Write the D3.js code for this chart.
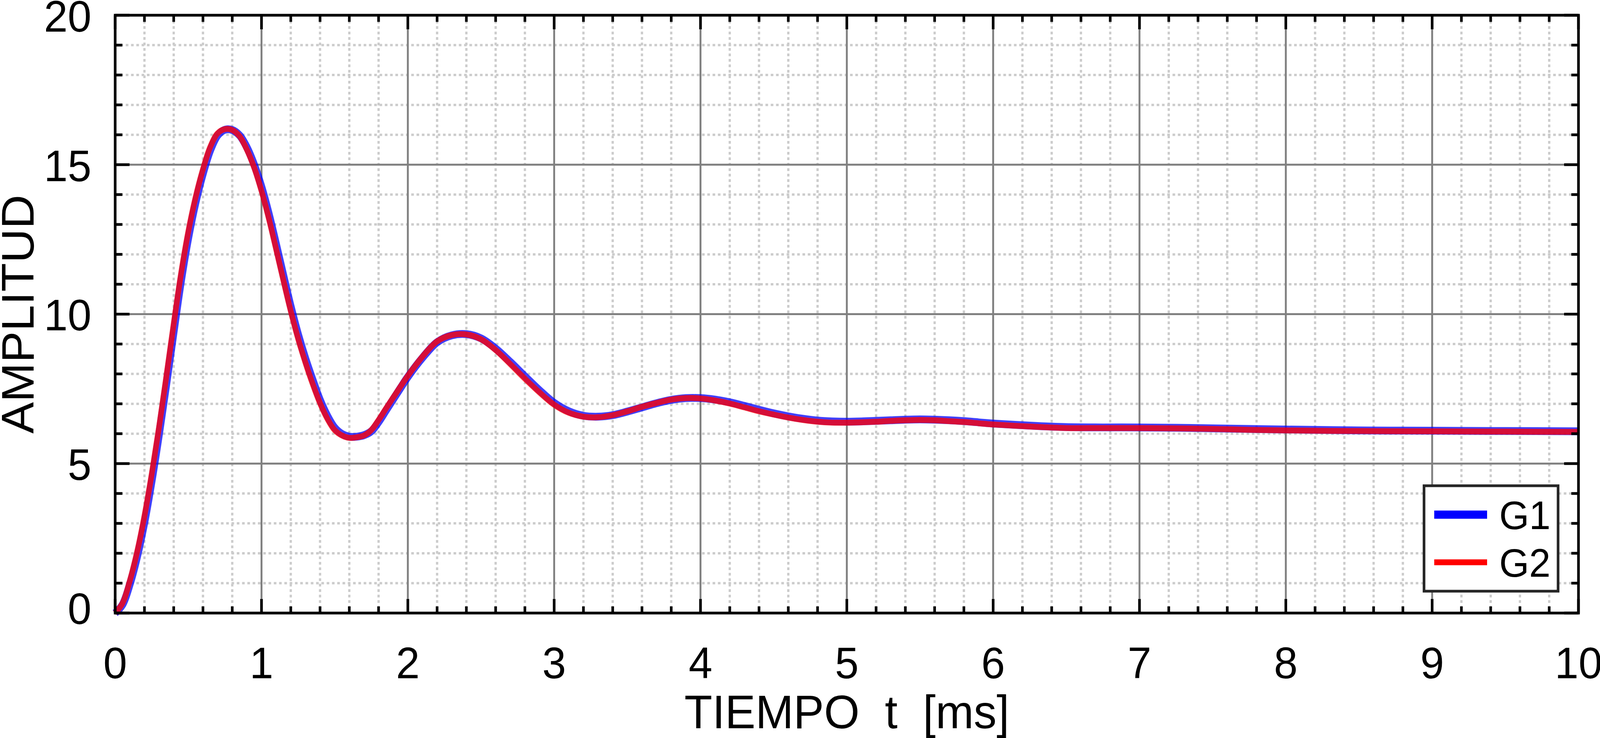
<!DOCTYPE html>
<html>
<head>
<meta charset="utf-8">
<script src="https://cdn.jsdelivr.net/npm/d3@7"></script>
<style>
  html, body { margin: 0; padding: 0; background: #fff; overflow: hidden; width: 100%; height: 100%; }
  #chart { display: block; width: 100vw; height: 100vh; }
  text { font-family: "Liberation Sans", Arial, Helvetica, sans-serif; fill: #000; }
</style>
</head>
<body>
<svg id="chart" viewBox="0 0 4237 1890" preserveAspectRatio="none"></svg>
<script>
// time axis (ms)
var tiempo = [0, 0.05, 0.1, 0.15, 0.2, 0.25, 0.3, 0.35, 0.4, 0.45, 0.5, 0.55, 0.6, 0.65, 0.7, 0.75, 0.8, 0.85, 0.9, 0.95,
  1.0, 1.05, 1.1, 1.15, 1.2, 1.25, 1.3, 1.35, 1.4, 1.45, 1.5, 1.55, 1.6, 1.65, 1.7, 1.75, 1.8, 1.85, 1.9, 1.95,
  2.0, 2.1, 2.2, 2.3, 2.4, 2.5, 2.6, 2.7, 2.8, 2.9, 3.0, 3.1, 3.2, 3.3, 3.4, 3.5, 3.6, 3.7, 3.8, 3.9,
  4.0, 4.1, 4.2, 4.3, 4.4, 4.5, 4.6, 4.7, 4.8, 4.9, 5.0, 5.1, 5.2, 5.3, 5.4, 5.5, 5.6, 5.7, 5.8, 5.9,
  6.0, 6.25, 6.5, 6.75, 7.0, 7.25, 7.5, 7.75, 8.0, 8.5, 9.0, 9.5, 10];

var g1 = [0, 0.28, 0.96, 1.88, 3.03, 4.42, 5.98, 7.66, 9.40, 11.10, 12.55, 13.74, 14.70, 15.48, 15.98, 16.17, 16.16, 15.98, 15.58, 15.00,
  14.26, 13.36, 12.34, 11.29, 10.26, 9.33, 8.52, 7.80, 7.13, 6.60, 6.20, 5.99, 5.90, 5.90, 5.95, 6.08, 6.39, 6.77, 7.15, 7.53,
  7.90, 8.54, 9.06, 9.29, 9.33, 9.19, 8.85, 8.40, 7.92, 7.45, 7.03, 6.75, 6.60, 6.57, 6.62, 6.74, 6.88, 7.02, 7.13, 7.19,
  7.19, 7.14, 7.05, 6.93, 6.80, 6.68, 6.58, 6.50, 6.44, 6.41, 6.40, 6.41, 6.43, 6.45, 6.47, 6.48, 6.47, 6.45, 6.42, 6.38,
  6.34, 6.27, 6.22, 6.21, 6.21, 6.20, 6.18, 6.16, 6.14, 6.11, 6.10, 6.09, 6.08];

var g2 = [0, 0.33, 1.08, 2.05, 3.25, 4.66, 6.23, 7.93, 9.68, 11.35, 12.77, 13.92, 14.85, 15.60, 16.05, 16.19, 16.16, 15.95, 15.50, 14.90,
  14.12, 13.20, 12.17, 11.12, 10.10, 9.18, 8.38, 7.66, 7.02, 6.50, 6.12, 5.94, 5.86, 5.88, 5.94, 6.12, 6.46, 6.84, 7.21, 7.58,
  7.94, 8.58, 9.09, 9.30, 9.32, 9.16, 8.80, 8.33, 7.84, 7.38, 6.97, 6.70, 6.57, 6.55, 6.62, 6.75, 6.90, 7.03, 7.14, 7.19,
  7.18, 7.11, 7.01, 6.88, 6.75, 6.64, 6.54, 6.46, 6.40, 6.37, 6.37, 6.38, 6.40, 6.43, 6.45, 6.46, 6.45, 6.42, 6.39, 6.35,
  6.31, 6.24, 6.19, 6.19, 6.19, 6.18, 6.16, 6.13, 6.11, 6.09, 6.08, 6.07, 6.06];

var xMajor = [0, 1, 2, 3, 4, 5, 6, 7, 8, 9, 10];
var yMajor = [0, 5, 10, 15, 20];
var seriesNames = ['G1', 'G2'];

var svg = d3.select('#chart');
var x = d3.scaleLinear().domain([0, 10]).range([305, 4180]);
var y = d3.scaleLinear().domain([0, 20]).range([1570, 39]);

var xMinor = d3.range(0, 10.001, 0.2).map(function(d) { return +d.toFixed(1); })
  .filter(function(d) { return xMajor.indexOf(d) < 0; });
var yMinor = d3.range(0, 21, 1).filter(function(d) { return yMajor.indexOf(d) < 0; });

// minor grid (dotted)
var grid = svg.append('g');
grid.selectAll('line.mx').data(xMinor).enter().append('line')
    .attr('x1', function(d) { return x(d); }).attr('x2', function(d) { return x(d); })
    .attr('y1', y(20)).attr('y2', y(0))
    .attr('stroke', '#cccccc').attr('stroke-width', 6).attr('stroke-dasharray', '7,7');
grid.selectAll('line.my').data(yMinor).enter().append('line')
    .attr('y1', function(d) { return y(d); }).attr('y2', function(d) { return y(d); })
    .attr('x1', x(0)).attr('x2', x(10))
    .attr('stroke', '#cccccc').attr('stroke-width', 6).attr('stroke-dasharray', '7,7');

// major grid
grid.selectAll('line.Mx').data(xMajor.slice(1, -1)).enter().append('line')
    .attr('x1', function(d) { return x(d); }).attr('x2', function(d) { return x(d); })
    .attr('y1', y(20)).attr('y2', y(0))
    .attr('stroke', '#808080').attr('stroke-width', 5);
grid.selectAll('line.My').data(yMajor.slice(1, -1)).enter().append('line')
    .attr('y1', function(d) { return y(d); }).attr('y2', function(d) { return y(d); })
    .attr('x1', x(0)).attr('x2', x(10))
    .attr('stroke', '#808080').attr('stroke-width', 5);

// curves
var line = d3.line()
    .x(function(d) { return x(d[0]); })
    .y(function(d) { return y(d[1]); })
    .curve(d3.curveCatmullRom.alpha(0.5));

svg.append('path')
    .datum(d3.zip(tiempo, g1))
    .attr('d', line)
    .attr('fill', 'none').attr('stroke', '#0000ff').attr('stroke-opacity', 0.75)
    .attr('stroke-width', 20).attr('stroke-linejoin', 'round');
svg.append('path')
    .datum(d3.zip(tiempo, g2))
    .attr('d', line)
    .attr('fill', 'none').attr('stroke', '#ff0000').attr('stroke-opacity', 0.78)
    .attr('stroke-width', 15).attr('stroke-linejoin', 'round');

// ticks on all four sides, pointing in
var ticks = svg.append('g').attr('stroke', '#000').attr('stroke-width', 7);
function xTicks(vals, len) {
  ticks.selectAll(null).data(vals).enter().append('line')
      .attr('x1', function(d) { return x(d); }).attr('x2', function(d) { return x(d); })
      .attr('y1', y(0)).attr('y2', y(0) - len);
  ticks.selectAll(null).data(vals).enter().append('line')
      .attr('x1', function(d) { return x(d); }).attr('x2', function(d) { return x(d); })
      .attr('y1', y(20)).attr('y2', y(20) + len);
}
function yTicks(vals, len) {
  ticks.selectAll(null).data(vals).enter().append('line')
      .attr('y1', function(d) { return y(d); }).attr('y2', function(d) { return y(d); })
      .attr('x1', x(0)).attr('x2', x(0) + len);
  ticks.selectAll(null).data(vals).enter().append('line')
      .attr('y1', function(d) { return y(d); }).attr('y2', function(d) { return y(d); })
      .attr('x1', x(10)).attr('x2', x(10) - len);
}
xTicks(xMajor, 36); xTicks(xMinor, 17);
yTicks(yMajor, 38); yTicks(yMinor, 19);

// frame
svg.append('rect')
    .attr('x', x(0)).attr('y', y(20))
    .attr('width', x(10) - x(0)).attr('height', y(0) - y(20))
    .attr('fill', 'none').attr('stroke', '#000').attr('stroke-width', 7);

// tick labels
svg.append('g').selectAll('text').data(xMajor).enter().append('text')
    .attr('x', function(d) { return x(d); })
    .attr('y', 1737)
    .attr('text-anchor', 'middle')
    .style('font-size', '113px')
    .text(function(d) { return d; });
svg.append('g').selectAll('text').data(yMajor).enter().append('text')
    .attr('x', 242)
    .attr('y', function(d) { return y(d) + (d === 0 ? 28 : 42); })
    .attr('text-anchor', 'end')
    .style('font-size', '113px')
    .text(function(d) { return d; });

// axis titles
svg.append('text')
    .attr('x', (x(0) + x(10)) / 2).attr('y', 1865)
    .attr('text-anchor', 'middle')
    .style('font-size', '121px').style('white-space', 'pre')
    .text('TIEMPO  t  [ms]');
svg.append('text')
    .attr('transform', 'translate(89,' + ((y(0) + y(20)) / 2) + ') rotate(-90)')
    .attr('text-anchor', 'middle')
    .style('font-size', '121px')
    .text('AMPLITUD');

// legend
var legend = svg.append('g');
legend.append('rect')
    .attr('x', 3771).attr('y', 1244).attr('width', 355).attr('height', 270)
    .attr('fill', '#fff').attr('stroke', '#262626').attr('stroke-width', 7);
var legColors = ['#0000ff', '#ff0000'];
var legWidths = [21, 15];
var legY = [1318, 1440];
seriesNames.forEach(function(name, i) {
  legend.append('line')
      .attr('x1', 3798).attr('x2', 3938).attr('y1', legY[i]).attr('y2', legY[i])
      .attr('stroke', legColors[i]).attr('stroke-width', legWidths[i]);
  legend.append('text')
      .attr('x', 3970).attr('y', legY[i] + 37)
      .style('font-size', '102px')
      .text(name);
});
</script>
</body>
</html>
